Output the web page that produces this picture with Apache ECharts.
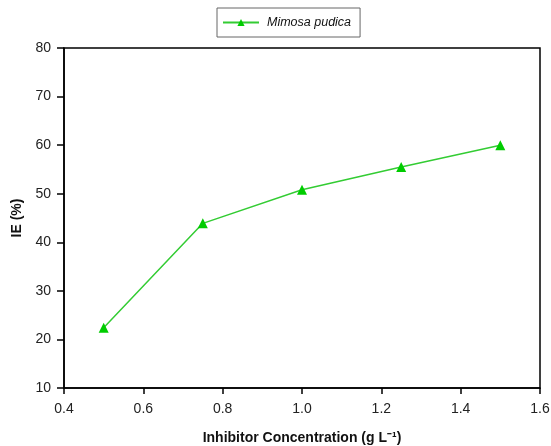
<!DOCTYPE html>
<html>
<head>
<meta charset="utf-8">
<script src="https://cdn.jsdelivr.net/npm/echarts@6/dist/echarts.min.js"></script>
<style>
  html, body { margin: 0; padding: 0; background: #fff; }
  #chart { width: 551px; height: 446px; }
</style>
</head>
<body>
<div id="chart"></div>
<script>
// inhibitor concentration (g/L) and inhibition efficiency (%)
const concentrations = [0.5, 0.75, 1.0, 1.25, 1.5];
const efficiency = [22.4, 43.9, 50.8, 55.5, 60.0];
const seriesName = 'Mimosa pudica';

const font = '"Liberation Sans", Arial, sans-serif';

const chart = echarts.init(document.getElementById('chart'), null, { renderer: 'canvas' });

chart.setOption({
	backgroundColor: '#ffffff',
	animation: false,
	legend: {
		top: 8,
		left: 217,
		data: [seriesName],
		itemWidth: 36,
		itemHeight: 9,
		itemGap: 8,
		padding: [8, 9, 8, 5],
		borderColor: '#666',
		borderWidth: 1,
		textStyle: { fontFamily: font, fontStyle: 'italic', fontSize: 12.5, color: '#111', padding: [0, 0, 0, 3] },
	},
	grid: {
		left: 64,
		right: 11,
		top: 48,
		bottom: 58,
		outerBoundsMode: 'none',
		containLabel: false,
		show: true,
		borderColor: '#000',
		borderWidth: 1.5,
	},
	xAxis: {
		type: 'value',
		min: 0.4,
		max: 1.6,
		interval: 0.2,
		name: 'Inhibitor Concentration (g L⁻¹)',
		nameLocation: 'middle',
		nameGap: 43,
		nameTextStyle: { fontFamily: font, fontWeight: 'bold', fontSize: 14, color: '#111' },
		axisLine: { onZero: false, lineStyle: { color: '#000', width: 1.5 } },
		axisTick: { length: 6, lineStyle: { color: '#000', width: 1.5 } },
		axisLabel: {
			fontFamily: font, fontSize: 14, color: '#222', margin: 14,
			formatter: (v) => v.toFixed(1),
		},
		splitLine: { show: false },
	},
	yAxis: {
		type: 'value',
		min: 10,
		max: 80,
		interval: 10,
		name: 'IE (%)',
		nameLocation: 'middle',
		nameGap: 38,
		nameTextStyle: { fontFamily: font, fontWeight: 'bold', fontSize: 14, color: '#111' },
		axisLine: { show: true, lineStyle: { color: '#000', width: 1.5 } },
		axisTick: { show: true, length: 7, lineStyle: { color: '#000', width: 1.5 } },
		axisLabel: { fontFamily: font, fontSize: 14, color: '#222', margin: 13 },
		splitLine: { show: false },
	},
	series: [
		{
			name: seriesName,
			type: 'line',
			data: concentrations.map((c, i) => [c, efficiency[i]]),
			symbol: 'triangle',
			symbolSize: 10,
			itemStyle: { color: '#00cc00' },
			lineStyle: { color: '#33cc33', width: 1.5 },
		},
	],
});
</script>
</body>
</html>
